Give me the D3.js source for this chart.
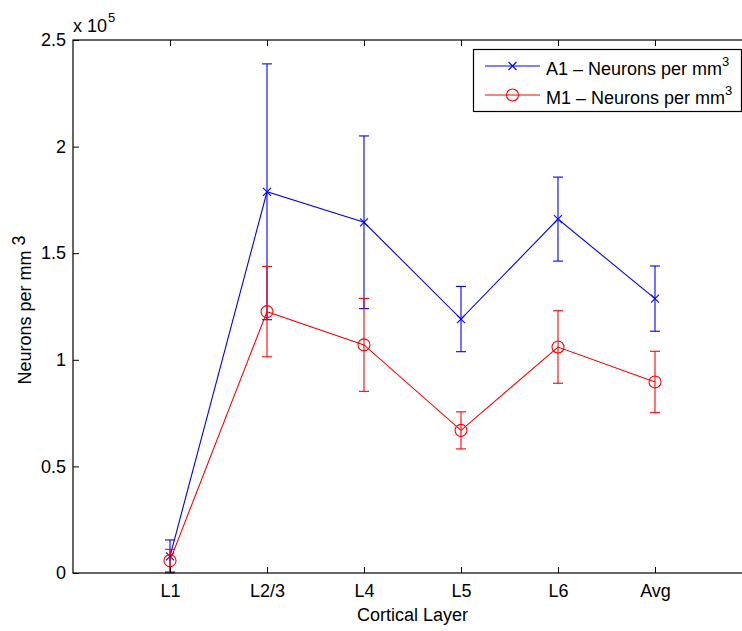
<!DOCTYPE html>
<html>
<head>
<meta charset="utf-8">
<script src="https://cdn.jsdelivr.net/npm/d3@7/dist/d3.min.js"></script>
<style>
  html, body { margin: 0; padding: 0; background: #fff; }
  svg { display: block; font-family: "Liberation Sans", Arial, Helvetica, sans-serif; }
</style>
</head>
<body>
<svg id="chart" width="742" height="631"></svg>
<script>
// Neuron density per cortical layer (values in units of 1e5 per mm^3)
const layers = ["L1", "L2/3", "L4", "L5", "L6", "Avg"];
const a1Mean = [0.078, 1.788, 1.645, 1.191, 1.660, 1.287];
const a1Err  = [0.077, 0.600, 0.405, 0.153, 0.197, 0.153];
const m1Mean = [0.058, 1.226, 1.070, 0.669, 1.060, 0.896];
const m1Err  = [0.053, 0.212, 0.218, 0.087, 0.170, 0.144];
const yTicks = [0, 0.5, 1, 1.5, 2, 2.5];

const series = [
  { name: "A1", color: "#0000ff", marker: "x", mean: a1Mean, err: a1Err },
  { name: "M1", color: "#ff0000", marker: "o", mean: m1Mean, err: m1Err }
];

const FS = 18;
const svg = d3.select("#chart");
const margin = { left: 73, top: 40 };
const plotW = 679, plotH = 533;

const x = d3.scaleLinear().domain([0, layers.length + 1]).range([margin.left, margin.left + plotW]);
const y = d3.scaleLinear().domain([0, 2.5]).range([margin.top + plotH, margin.top]);

const g = svg.append("g");

// Series: error bars, connecting line, markers
series.forEach(s => {
  const sg = g.append("g").attr("stroke", s.color).attr("fill", "none").attr("stroke-width", 1.1);
  s.mean.forEach((m, i) => {
    const cx = x(i + 1);
    const lo = y(Math.max(0, m - s.err[i])), hi = y(m + s.err[i]);
    sg.append("line").attr("x1", cx).attr("x2", cx).attr("y1", lo).attr("y2", hi);
    sg.append("line").attr("x1", cx - 5).attr("x2", cx + 5).attr("y1", lo).attr("y2", lo);
    sg.append("line").attr("x1", cx - 5).attr("x2", cx + 5).attr("y1", hi).attr("y2", hi);
  });
  const line = d3.line().x((d, i) => x(i + 1)).y(d => y(d));
  sg.append("path").attr("d", line(s.mean));
  s.mean.forEach((m, i) => {
    const cx = x(i + 1), cy = y(m);
    if (s.marker === "x") {
      const r = 4;
      sg.append("path").attr("d", `M${cx - r},${cy - r}L${cx + r},${cy + r}M${cx - r},${cy + r}L${cx + r},${cy - r}`);
    } else {
      sg.append("circle").attr("cx", cx).attr("cy", cy).attr("r", 6);
    }
  });
});

// Axes box
const axG = svg.append("g").attr("stroke", "#000").attr("fill", "none");
axG.append("rect").attr("x", margin.left).attr("y", margin.top).attr("width", plotW).attr("height", plotH).attr("stroke-width", 1.2);

// X axis ticks (bottom and top, inward) and labels
const xAxisB = d3.axisBottom(x).tickValues(d3.range(1, layers.length + 1)).tickSize(-6).tickFormat((d) => layers[d - 1]).tickPadding(11);
const xb = svg.append("g").attr("transform", `translate(0,${margin.top + plotH})`).call(xAxisB);
const xAxisT = d3.axisTop(x).tickValues(d3.range(1, layers.length + 1)).tickSize(-6).tickFormat("");
const xt = svg.append("g").attr("transform", `translate(0,${margin.top})`).call(xAxisT);

// Y axis ticks and labels
const yAxis = d3.axisLeft(y).tickValues(yTicks).tickSize(-6).tickFormat(d3.format("~g")).tickPadding(7);
const yl = svg.append("g").attr("transform", `translate(${margin.left},0)`).call(yAxis);

[xb, xt, yl].forEach(a => {
  a.select(".domain").remove();
  a.selectAll(".tick line").attr("stroke", "#000").attr("stroke-width", 1);
  a.selectAll("text").attr("font-size", FS).attr("fill", "#000").attr("font-family", "Liberation Sans, Arial, sans-serif");
});

// Exponent label
const expT = svg.append("text").attr("x", 73).attr("y", 32).attr("font-size", FS).attr("fill", "#000");
expT.append("tspan").text("x 10");
expT.append("tspan").attr("font-size", 13).attr("dx", 1).attr("dy", -10).text("5");

// Axis titles
svg.append("text").attr("x", x(3.5)).attr("y", 621).attr("text-anchor", "middle").attr("font-size", FS).attr("fill", "#000").text("Cortical Layer");
const yt = svg.append("text").attr("transform", `translate(31,310) rotate(-90)`).attr("text-anchor", "middle").attr("font-size", FS).attr("fill", "#000");
yt.append("tspan").text("Neurons per mm ");
yt.append("tspan").attr("dy", -6).text("3");

// Legend
const lg = svg.append("g");
lg.append("rect").attr("x", 473.5).attr("y", 49.5).attr("width", 268).attr("height", 62).attr("fill", "#fff").attr("stroke", "#000").attr("stroke-width", 1.2);
series.forEach((s, i) => {
  const ly = 66 + i * 29;
  const row = lg.append("g").attr("stroke", s.color).attr("fill", "none").attr("stroke-width", 1.1);
  row.append("line").attr("x1", 485).attr("x2", 540).attr("y1", ly).attr("y2", ly);
  const mx = 512.5;
  if (s.marker === "x") {
    row.append("path").attr("d", `M${mx - 4},${ly - 4}L${mx + 4},${ly + 4}M${mx - 4},${ly + 4}L${mx + 4},${ly - 4}`);
  } else {
    row.append("circle").attr("cx", mx).attr("cy", ly).attr("r", 6);
  }
  const t = lg.append("text").attr("x", 546).attr("y", ly + 8.5).attr("font-size", FS).attr("fill", "#000");
  t.append("tspan").text(`${s.name} \u2013 Neurons per mm`);
  t.append("tspan").attr("font-size", 13).attr("dy", -9).text("3");
});
</script>
</body>
</html>
